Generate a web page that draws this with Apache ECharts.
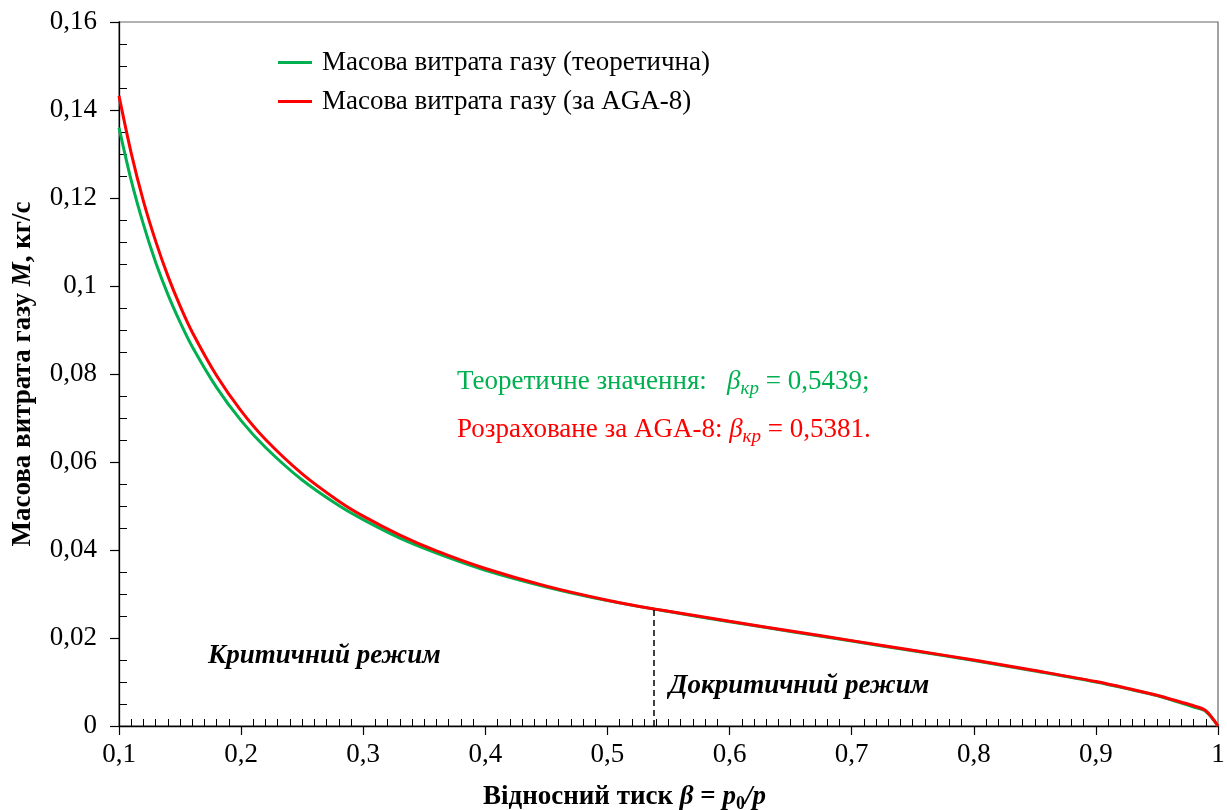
<!DOCTYPE html>
<html>
<head>
<meta charset="utf-8">
<script src="https://cdn.jsdelivr.net/npm/echarts@6/dist/echarts.min.js"></script>
<style>
html,body{margin:0;padding:0;background:#fff;}
#chart{width:1227px;height:810px;}
</style>
</head>
<body>
<div id="chart"></div>
<script>
// ---- data ----
const betaGreen = [0.1,0.11,0.12,0.13,0.14,0.15,0.16,0.18,0.2,0.22,0.25,0.28,0.3,0.33,0.36,0.4,0.45,0.5,0.5439,0.55,0.6,0.65,0.7,0.75,0.8,0.85,0.9,0.93,0.95,0.97,0.98,0.99,1.0];
const massGreen = [0.1360,0.1240,0.1140,0.1054,0.0981,0.0918,0.0862,0.0769,0.0694,0.0633,0.0559,0.0501,0.0469,0.0427,0.0393,0.0354,0.0316,0.0285,0.0263,0.0260,0.0237,0.0215,0.0193,0.0171,0.0149,0.0125,0.0100,0.0082,0.0069,0.0052,0.0043,0.0033,0];
const betaRed = [0.1,0.11,0.12,0.13,0.14,0.15,0.16,0.18,0.2,0.22,0.25,0.28,0.3,0.33,0.36,0.4,0.45,0.5,0.5381,0.55,0.6,0.65,0.7,0.75,0.8,0.85,0.9,0.93,0.95,0.97,0.98,0.99,1.0];
const massRed = [0.1432,0.1302,0.1193,0.1102,0.1023,0.0955,0.0895,0.0796,0.0716,0.0651,0.0573,0.0511,0.0477,0.0434,0.0398,0.0358,0.0318,0.0286,0.0266,0.0261,0.0238,0.0216,0.0194,0.0172,0.0150,0.0126,0.0101,0.0083,0.0070,0.0054,0.0046,0.0035,0];
const critBetaRed = 0.5381;
const critMassRed = 0.0266;
const seriesNames = ['Масова витрата газу (теоретична)', 'Масова витрата газу (за AGA-8)'];
const xTicks = {min: 0.1, max: 1.0, interval: 0.1};
const yTicks = {min: 0, max: 0.16, interval: 0.02};
const noteGreen = '{n|Теоретичне значення:   }{i|β}{s|кр}{n| = 0,5439;}';
const noteRed = '{n|Розраховане за AGA-8: }{i|β}{s|кр}{n| = 0,5381.}';
const regimeCrit = 'Критичний режим';
const regimeSub = 'Докритичний режим';

const FF = '"Liberation Serif", "Times New Roman", serif';
const FS = 27;
const fmt = v => String(parseFloat(Number(v).toFixed(3))).replace('.', ',');
const pairs = (xs, ys) => xs.map((x, i) => [x, ys[i]]);

const chart = echarts.init(document.getElementById('chart'), null, {renderer: 'canvas'});

function noteRich(color) {
  return {
    n: {fontFamily: FF, fontSize: FS, fill: color, lineHeight: 34, verticalAlign: 'middle'},
    i: {fontFamily: FF, fontSize: FS, fontStyle: 'italic', fill: color, lineHeight: 34, verticalAlign: 'middle'},
    s: {fontFamily: FF, fontSize: 19, fontStyle: 'italic', fill: color, lineHeight: 19, verticalAlign: 'bottom'}
  };
}

const option = {
  animation: false,
  backgroundColor: '#fff',
  grid: {left: 119, right: 9, top: 22, bottom: 84, outerBoundsMode: 'none', containLabel: false,
         show: true, borderColor: '#666', borderWidth: 1.2, backgroundColor: 'transparent'},
  legend: {
    orient: 'vertical', left: 273, top: 44, itemGap: 12,
    itemWidth: 34, itemHeight: 3, icon: 'rect',
    data: seriesNames,
    textStyle: {fontFamily: FF, fontSize: FS, color: '#000', lineHeight: 27, padding: [0, 0, 0, 5]}
  },
  xAxis: [{
    type: 'value', min: xTicks.min, max: xTicks.max, interval: xTicks.interval, position: 'bottom',
    axisLine: {show: true, onZero: false, lineStyle: {color: '#000', width: 1.3}},
    axisTick: {show: true, inside: false, length: 9, lineStyle: {color: '#000', width: 1.2}},
    axisLabel: {fontFamily: FF, fontSize: FS, color: '#000', margin: 15, formatter: fmt},
    splitLine: {show: false},
    name: '{b|Відносний тиск }{bi|β}{b| = }{bi|p}{sub|0}{bi|/p}',
    nameLocation: 'middle', nameGap: 55,
    nameTextStyle: {padding: [0, 88, 0, 0], rich: {
      b: {fontFamily: FF, fontSize: FS, fontWeight: 'bold', color: '#000', lineHeight: 32, verticalAlign: 'middle'},
      bi: {fontFamily: FF, fontSize: FS, fontWeight: 'bold', fontStyle: 'italic', color: '#000', lineHeight: 32, verticalAlign: 'middle'},
      sub: {fontFamily: FF, fontSize: 18, fontWeight: 'bold', color: '#000', lineHeight: 18, verticalAlign: 'bottom'}
    }}
  }, {
    type: 'value', min: xTicks.min, max: xTicks.max, interval: xTicks.interval, position: 'bottom',
    axisLine: {show: false, onZero: false},
    axisTick: {show: false, inside: true},
    minorTick: {show: true, splitNumber: 10, length: 7, lineStyle: {color: '#000', width: 1}},
    axisLabel: {show: false}, splitLine: {show: false}, minorSplitLine: {show: false}
  }],
  yAxis: [{
    type: 'value', min: yTicks.min, max: yTicks.max, interval: yTicks.interval, position: 'left',
    axisLine: {show: true, onZero: false, lineStyle: {color: '#000', width: 1.3}},
    axisTick: {show: true, inside: false, length: 9, lineStyle: {color: '#000', width: 1.2}},
    axisLabel: {fontFamily: FF, fontSize: FS, color: '#000', margin: 22, formatter: fmt},
    splitLine: {show: false},
    name: '{b|Масова витрата газу }{bi|M}{b|, кг/с}',
    nameLocation: 'middle', nameGap: 82,
    nameTextStyle: {rich: {
      b: {fontFamily: FF, fontSize: FS, fontWeight: 'bold', color: '#000'},
      bi: {fontFamily: FF, fontSize: FS, fontWeight: 'bold', fontStyle: 'italic', color: '#000'}
    }}
  }, {
    type: 'value', min: yTicks.min, max: yTicks.max, interval: yTicks.interval, position: 'left',
    axisLine: {show: false, onZero: false},
    axisTick: {show: false, inside: true},
    minorTick: {show: true, splitNumber: 4, length: 8, lineStyle: {color: '#000', width: 1}},
    axisLabel: {show: false}, splitLine: {show: false}, minorSplitLine: {show: false}
  }],
  series: [{
    name: seriesNames[0], type: 'line', xAxisIndex: 0, yAxisIndex: 0,
    data: pairs(betaGreen, massGreen),
    showSymbol: false, symbol: 'none', smooth: 0.3,
    lineStyle: {color: '#00B050', width: 3}, itemStyle: {color: '#00B050'}, z: 2
  }, {
    name: seriesNames[1], type: 'line', xAxisIndex: 0, yAxisIndex: 0,
    data: pairs(betaRed, massRed),
    showSymbol: false, symbol: 'none', smooth: 0.3,
    lineStyle: {color: '#FF0000', width: 3}, itemStyle: {color: '#FF0000'}, z: 3,
    markLine: {
      silent: true, symbol: ['none', 'none'], label: {show: false}, animation: false,
      lineStyle: {color: '#000', width: 1.5, type: [6, 4]},
      data: [[{coord: [critBetaRed, 0]}, {coord: [critBetaRed, critMassRed]}]]
    }
  }],
  graphic: [
    {type: 'text', left: 457, top: 368, style: {text: noteGreen, rich: noteRich('#00B050')}},
    {type: 'text', left: 457, top: 416, style: {text: noteRed, rich: noteRich('#FF0000')}},
    {type: 'text', left: 208, top: 643, style: {text: regimeCrit, fontFamily: FF, fontSize: FS, fontWeight: 'bold', fontStyle: 'italic', fill: '#000'}},
    {type: 'text', left: 669, top: 673, style: {text: regimeSub, fontFamily: FF, fontSize: FS, fontWeight: 'bold', fontStyle: 'italic', fill: '#000'}}
  ]
};
chart.setOption(option);
</script>
</body>
</html>
